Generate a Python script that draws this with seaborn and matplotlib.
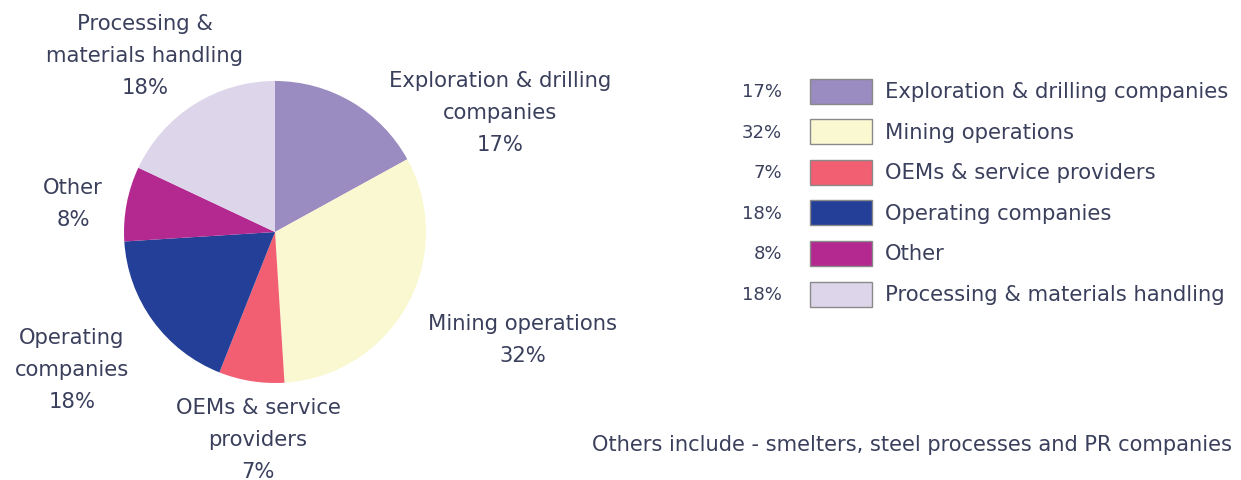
import matplotlib
matplotlib.use('Agg')
import matplotlib.pyplot as plt
import seaborn as sns
from matplotlib.patches import Rectangle

# dados do gráfico
categorias = ['Exploration & drilling companies', 'Mining operations',
              'OEMs & service providers', 'Operating companies',
              'Other', 'Processing & materials handling']
valores = [17, 32, 7, 18, 8, 18]
rotulos_pizza = ['Exploration & drilling\ncompanies', 'Mining operations',
                 'OEMs & service\nproviders', 'Operating\ncompanies',
                 'Other', 'Processing &\nmaterials handling']
cores = ['#9a8bc0', '#f9f8d0', '#f25e72', '#243f97', '#b32990', '#ddd5ea']
nota = 'Others include - smelters, steel processes and PR companies'

sns.set_theme(style='white')
plt.rcParams['font.family'] = ['DejaVu Sans']
cor_texto = '#3a3f5c'

W, H = 1241, 481
cx, cy, r = 275, 233, 151  # centro e raio da pizza em pixels


def px(x, y):
    # pixel (origem no topo) -> coordenadas de dados
    return (x - cx) / r, (cy - y) / r


fig = plt.figure(figsize=(W / 100, H / 100), dpi=100)
ax = fig.add_axes([0, 0, 1, 1])

ax.pie(valores, colors=cores, startangle=90, counterclock=False,
       radius=1, wedgeprops={'linewidth': 0})

ax.set_xlim((0 - cx) / r, (W - cx) / r)
ax.set_ylim((cy - H) / r, cy / r)
ax.set_aspect('auto')
ax.axis('off')

# posição dos rótulos em volta da pizza (pixels)
pos_rotulos = [(500, 113), (523, 340), (258, 440), (72, 370), (73, 204), (145, 56)]

for rot, v, (x, y) in zip(rotulos_pizza, valores, pos_rotulos):
    tx, ty = px(x, y)
    ax.text(tx, ty, f'{rot}\n{v}%', ha='center', va='center',
            fontsize=15.2, color=cor_texto, linespacing=1.72, multialignment='center')

# legenda manual com percentuais à esquerda
y0, passo = 92, 40.6
for i, (cat, v, c) in enumerate(zip(categorias, valores, cores)):
    y = y0 + i * passo
    x1, y1 = px(810, y + 12.5)
    ax.add_patch(Rectangle((x1, y1), 62 / r, 25 / r, facecolor=c,
                           edgecolor='#8a8a8a', linewidth=1))
    tx, ty = px(782, y)
    ax.text(tx, ty, f'{v}%', ha='right', va='center', fontsize=13, color=cor_texto)
    tx, ty = px(885, y)
    ax.text(tx, ty, cat, ha='left', va='center', fontsize=15.2, color=cor_texto)

tx, ty = px(592, 445)
ax.text(tx, ty, nota, ha='left', va='center', fontsize=15.1, color=cor_texto)

fig.savefig('out.png', dpi=100)
